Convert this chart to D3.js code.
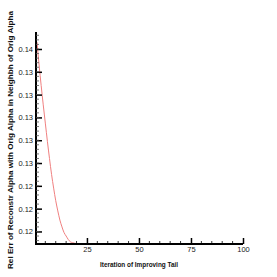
<!DOCTYPE html>
<html>
<head>
<meta charset="utf-8">
<script src="https://cdn.jsdelivr.net/npm/d3@7"></script>
<style>
  body { margin: 0; background: #fff; }
  svg { display: block; font-family: "Liberation Sans", Arial, sans-serif; }
</style>
</head>
<body>
<div id="chart"></div>
<script>
// iteration number and relative error
const iterations = [1, 2, 3, 4, 5, 6, 7, 8, 9, 10, 11, 12, 13, 14, 15, 16, 17, 18, 19, 20, 21, 22, 25, 30, 40, 50, 60, 70, 80, 90, 100];
const relErr = [0.1366, 0.1346, 0.1328, 0.1311, 0.1295, 0.1279, 0.1264, 0.1250, 0.1238, 0.1227, 0.1218,
  0.1210, 0.1204, 0.1199, 0.1196, 0.1193, 0.1191, 0.11902, 0.11897, 0.11894, 0.11892, 0.11891,
  0.11891, 0.11891, 0.11891, 0.11891, 0.11891, 0.11891, 0.11891, 0.11891, 0.11891];
const xTicks = [25, 50, 75, 100];
const yTicks = [0.120, 0.122, 0.124, 0.126, 0.128, 0.130, 0.132, 0.134, 0.136];
const xTitle = 'Iteration of Improving Tail';
const yTitle = 'Rel Err of Reconstr Alpha with Orig Alpha in Neighbh of Orig Alpha';

const width = 277, height = 277;
const svg = d3.select('#chart').append('svg')
  .attr('width', width)
  .attr('height', height);

const x = d3.scaleLinear().domain([1, 100]).range([37, 243]);
const y = d3.scaleLinear().domain([0.1189, 0.13749]).range([244, 32]);

const data = iterations.map((it, i) => ({it, v: relErr[i]}));

// curve
svg.append('path')
  .datum(data)
  .attr('fill', 'none')
  .attr('stroke', '#f08080')
  .attr('stroke-width', 1)
  .attr('d', d3.line().x(d => x(d.it)).y(d => y(d.v)).curve(d3.curveMonotoneX));

// minor ticks
const xMinor = d3.range(5, 100, 5).filter(v => !xTicks.includes(v));
const yMinor = d3.range(0, 46).map(i => 0.1192 + i * 0.0004).filter(v => v < 0.1374);

// X axis
const xAxis = svg.append('g').attr('transform', `translate(0,244)`)
  .call(d3.axisBottom(x).tickValues(xTicks).tickSize(-6).tickPadding(3).tickSizeOuter(0));
xAxis.select('.domain').attr('stroke', '#000').attr('stroke-width', 2).attr('d', 'M36,0H243');
xAxis.selectAll('.tick line').attr('stroke-width', 1.5);
xAxis.selectAll('.tick text').attr('fill', '#222').style('font-size', '7.5px');
svg.append('g').attr('transform', `translate(0,244)`)
  .selectAll('line').data(xMinor).join('line')
  .attr('x1', d => x(d)).attr('x2', d => x(d))
  .attr('y1', 0).attr('y2', -3)
  .attr('stroke', '#000').attr('stroke-width', 0.8);

// Y axis
const yAxis = svg.append('g').attr('transform', `translate(36,0)`)
  .call(d3.axisLeft(y).tickValues(yTicks).tickFormat(d3.format('.2f')).tickSize(-6).tickPadding(3).tickSizeOuter(0));
yAxis.select('.domain').attr('stroke', '#000').attr('stroke-width', 2).attr('d', 'M0,32V245');
yAxis.selectAll('.tick line').attr('stroke-width', 1.5);
yAxis.selectAll('.tick text').attr('fill', '#222').style('font-size', '7.5px');
svg.append('g').attr('transform', `translate(36,0)`)
  .selectAll('line').data(yMinor).join('line')
  .attr('x1', 0).attr('x2', 3)
  .attr('y1', d => y(d)).attr('y2', d => y(d))
  .attr('stroke', '#555').attr('stroke-width', 0.8);

// titles
svg.append('text')
  .attr('x', 139).attr('y', 267)
  .attr('text-anchor', 'middle')
  .attr('textLength', 78).attr('lengthAdjust', 'spacingAndGlyphs')
  .style('font-size', '7.5px').style('font-weight', 'bold')
  .attr('fill', '#111')
  .text(xTitle);

svg.append('text')
  .attr('transform', 'translate(13,140) rotate(-90)')
  .attr('text-anchor', 'middle')
  .attr('textLength', 258).attr('lengthAdjust', 'spacingAndGlyphs')
  .style('font-size', '7.5px').style('font-weight', 'bold')
  .attr('fill', '#111')
  .text(yTitle);
</script>
</body>
</html>
